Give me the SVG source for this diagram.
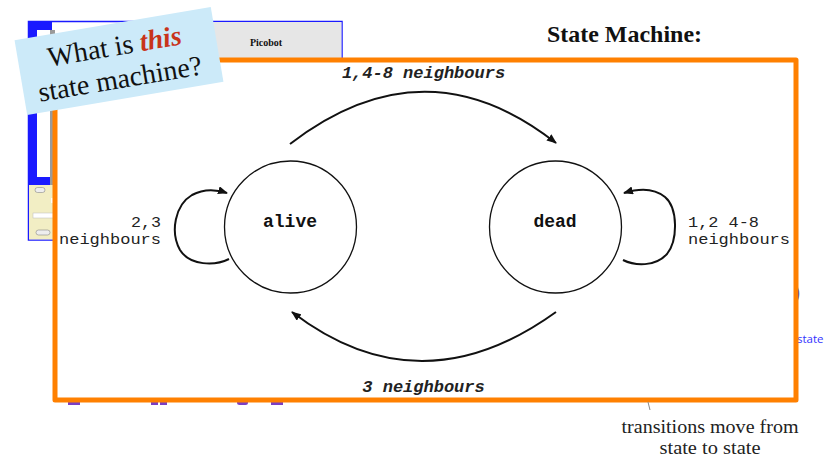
<svg xmlns="http://www.w3.org/2000/svg" width="825" height="459" viewBox="0 0 825 459">
  <style>
    .mono { font-family: "Liberation Mono", "DejaVu Sans Mono", monospace; }
    .serif { font-family: "Liberation Serif", "DejaVu Serif", serif; }
    .state { fill: #ffffff; stroke: #111111; stroke-width: 1.3; }
    .stateLabel { font-size: 18px; font-weight: bold; fill: #111111; text-anchor: middle; }
    .edge { fill: none; stroke: #111111; stroke-width: 2; }
    .edgeLabel { font-size: 15px; fill: #222222; }
    .edgeLabelTop { font-size: 17px; fill: #222222; font-weight: bold; font-style: italic; text-anchor: middle; }
  </style>
  <defs>
    <marker id="arrow" viewBox="0 0 10 8" refX="9" refY="4" markerWidth="10" markerHeight="8" markerUnits="userSpaceOnUse" orient="auto">
      <path d="M0,0 L10,4 L0,8 Z" fill="#111111"/>
    </marker>
  </defs>

  <rect x="0" y="0" width="825" height="459" fill="#ffffff"/>

  <!-- Picobot window in the background -->
  <g id="picobot-window">
    <rect x="28.5" y="21.5" width="313.5" height="218.5" fill="#ffffff" stroke="#1a1aff" stroke-width="1.5"/>
    <rect x="29" y="22" width="23" height="163" fill="#1a1aff"/>
    <rect x="37" y="30" width="13" height="147" fill="#ffffff"/>
    <rect x="50" y="30" width="5" height="155" fill="#9a9a9a"/>
    <rect x="29" y="185" width="26" height="54.5" fill="#f2eec4"/>
    <rect x="35" y="187.5" width="10" height="5" rx="2.5" fill="#eeeeee" stroke="#888888" stroke-width="0.6"/>
    <rect x="51" y="198" width="4" height="5" fill="#ffffff"/>
    <rect x="33" y="213" width="22" height="5" fill="#ffffff" stroke="#bbbbbb" stroke-width="0.5"/>
    <rect x="36" y="230" width="14" height="5" rx="2.5" fill="#eeeeee" stroke="#888888" stroke-width="0.6"/>
    <rect x="120" y="22" width="221.5" height="36" fill="#e6e6e6"/>
    <text x="266" y="46" class="serif" font-size="10" font-weight="bold" fill="#111111" text-anchor="middle">Picobot</text>
  </g>

  <!-- fragments peeking out from behind the frame -->
  <g id="fragments">
    <rect x="68" y="400" width="12" height="5" fill="#7a3fc4"/>
    <rect x="151" y="400" width="7" height="5" fill="#7a3fc4"/>
    <rect x="160" y="400" width="7" height="5" fill="#7a3fc4"/>
    <rect x="237" y="400" width="11" height="5" rx="2.5" fill="#7a3fc4"/>
    <rect x="271" y="400" width="12" height="5" fill="#7a3fc4"/>
    <text x="794" y="299" font-family="'Open Sans', sans-serif" font-size="20" fill="#2222ee">)</text>
    <text x="797" y="343" font-family="'Open Sans', sans-serif" font-size="11.5" fill="#3333ff">state</text>
  </g>

  <!-- orange frame around the state machine -->
  <rect id="frame" x="55" y="60" width="741" height="340" fill="#ffffff" stroke="#ff8000" stroke-width="5" stroke-linejoin="round"/>

  <!-- connectors -->
  <g id="connectors">
    <path class="edge" d="M290,144 Q425,40 556,143" marker-end="url(#arrow)"/>
    <path class="edge" d="M556,312 Q420,410 292,312" marker-end="url(#arrow)"/>
    <path class="edge" d="M229,259 C215,266 190,266 180,250 C170,232 175,205 192,195 C203,189 215,189 227,193" marker-end="url(#arrow)"/>
    <path class="edge" d="M623,260 C635,266 655,267 667,254 C678,240 678,208 665,197 C654,188 640,188 624,193" marker-end="url(#arrow)"/>
    <text class="mono edgeLabelTop" x="423.5" y="78">1,4-8 neighbours</text>
    <text class="mono edgeLabelTop" x="423.5" y="392">3 neighbours</text>
    <text class="mono edgeLabel" x="161" y="227" text-anchor="end" textLength="30" lengthAdjust="spacingAndGlyphs">2,3</text>
    <text class="mono edgeLabel" x="161" y="244" text-anchor="end" textLength="102" lengthAdjust="spacingAndGlyphs">neighbours</text>
    <text class="mono edgeLabel" x="688" y="227" textLength="71" lengthAdjust="spacingAndGlyphs">1,2 4-8</text>
    <text class="mono edgeLabel" x="688" y="244" textLength="102" lengthAdjust="spacingAndGlyphs">neighbours</text>
  </g>

  <!-- states -->
  <g id="state-alive">
    <circle class="state" cx="290.5" cy="227" r="66"/>
    <text class="mono stateLabel" x="290" y="227">alive</text>
  </g>
  <g id="state-dead">
    <circle class="state" cx="555.5" cy="227" r="66"/>
    <text class="mono stateLabel" x="555" y="227">dead</text>
  </g>

  <!-- heading and note -->
  <text id="title" x="547" y="42" class="serif" font-size="23" font-weight="bold" fill="#111111" textLength="155" lengthAdjust="spacingAndGlyphs">State Machine:</text>
  <g id="note">
    <line x1="648" y1="402" x2="650" y2="410" stroke="#888888" stroke-width="1"/>
    <text x="710" y="433" class="serif" font-size="18" fill="#222222" text-anchor="middle" textLength="177" lengthAdjust="spacingAndGlyphs">transitions move from</text>
    <text x="710" y="454" class="serif" font-size="18" fill="#222222" text-anchor="middle" textLength="101" lengthAdjust="spacingAndGlyphs">state to state</text>
  </g>

  <!-- question callout -->
  <g id="callout" transform="rotate(-9.6 119 61)">
    <rect x="19.5" y="23" width="199" height="76" fill="#cceaf9"/>
    <text x="117" y="55" class="serif" font-size="28" fill="#111111" text-anchor="middle">What is <tspan fill="#c8341a" font-weight="bold" font-style="italic">this</tspan></text>
    <text x="117" y="88" class="serif" font-size="28" fill="#111111" text-anchor="middle">state machine?</text>
  </g>
</svg>
